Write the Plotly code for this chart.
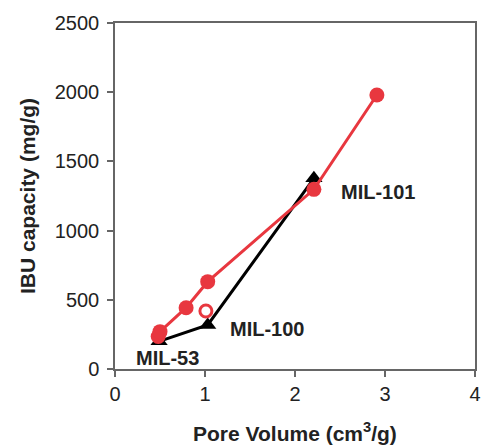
import plotly.graph_objects as go

# Data
red_x = [0.48, 0.50, 0.79, 1.03, 2.21, 2.91]
red_y = [235, 270, 443, 631, 1298, 1980]
open_x = [1.01]
open_y = [419]
black_x = [0.49, 1.03, 2.21]
black_y = [200, 318, 1378]
labels = ["MIL-53", "MIL-100", "MIL-101"]
label_x = [0.58, 1.69, 2.92]
label_y = [80, 289, 1279]
x_ticks = [0, 1, 2, 3, 4]
y_ticks = [0, 500, 1000, 1500, 2000, 2500]

RED = "#E8373F"
FONT = "Liberation Sans, Arial, sans-serif"

fig = go.Figure()
fig.add_trace(go.Scatter(x=black_x, y=black_y, mode="lines+markers",
                         line=dict(color="black", width=3),
                         marker=dict(symbol="triangle-up", size=15, color="black"),
                         showlegend=False))
fig.add_trace(go.Scatter(x=red_x, y=red_y, mode="lines+markers",
                         line=dict(color=RED, width=3),
                         marker=dict(symbol="circle", size=15, color=RED),
                         showlegend=False))
fig.add_trace(go.Scatter(x=open_x, y=open_y, mode="markers",
                         marker=dict(symbol="circle-open", size=12, color=RED,
                                     line=dict(width=3, color=RED)),
                         showlegend=False))

for t, x, y in zip(labels, label_x, label_y):
    fig.add_annotation(x=x, y=y, text="<b>" + t + "</b>", showarrow=False,
                       font=dict(family=FONT, size=20, color="#222222"))

fig.add_annotation(xref="paper", yref="paper", x=0.5, y=0, yshift=-63,
                   text="<b>Pore Volume (cm<sup>3</sup>/g)</b>", showarrow=False,
                   font=dict(family=FONT, size=21, color="#222222"),
                   xanchor="center", yanchor="middle")
fig.add_annotation(xref="paper", yref="paper", x=0, y=0.5, xshift=-88,
                   text="<b>IBU capacity (mg/g)</b>", showarrow=False, textangle=-90,
                   font=dict(family=FONT, size=21, color="#222222"),
                   xanchor="center", yanchor="middle")

axis_common = dict(showgrid=False, zeroline=False, showline=True,
                   linecolor="#666666", linewidth=1.5, mirror=True,
                   ticks="outside", ticklen=6, tickcolor="#666666", tickwidth=1.5,
                   automargin=False,
                   tickfont=dict(family=FONT, size=20, color="#222222"))

fig.update_xaxes(range=[0, 4], tickvals=x_ticks, **axis_common)
fig.update_yaxes(range=[0, 2500], tickvals=y_ticks, ticklabelstandoff=4, **axis_common)

fig.update_layout(width=481, height=445,
                  margin=dict(l=115, r=6, t=23, b=76),
                  plot_bgcolor="white", paper_bgcolor="white",
                  font=dict(family=FONT))

fig.write_html("out.html", config={"displayModeBar": False},
               post_script="document.body.style.margin='0';document.body.style.overflow='hidden';")
